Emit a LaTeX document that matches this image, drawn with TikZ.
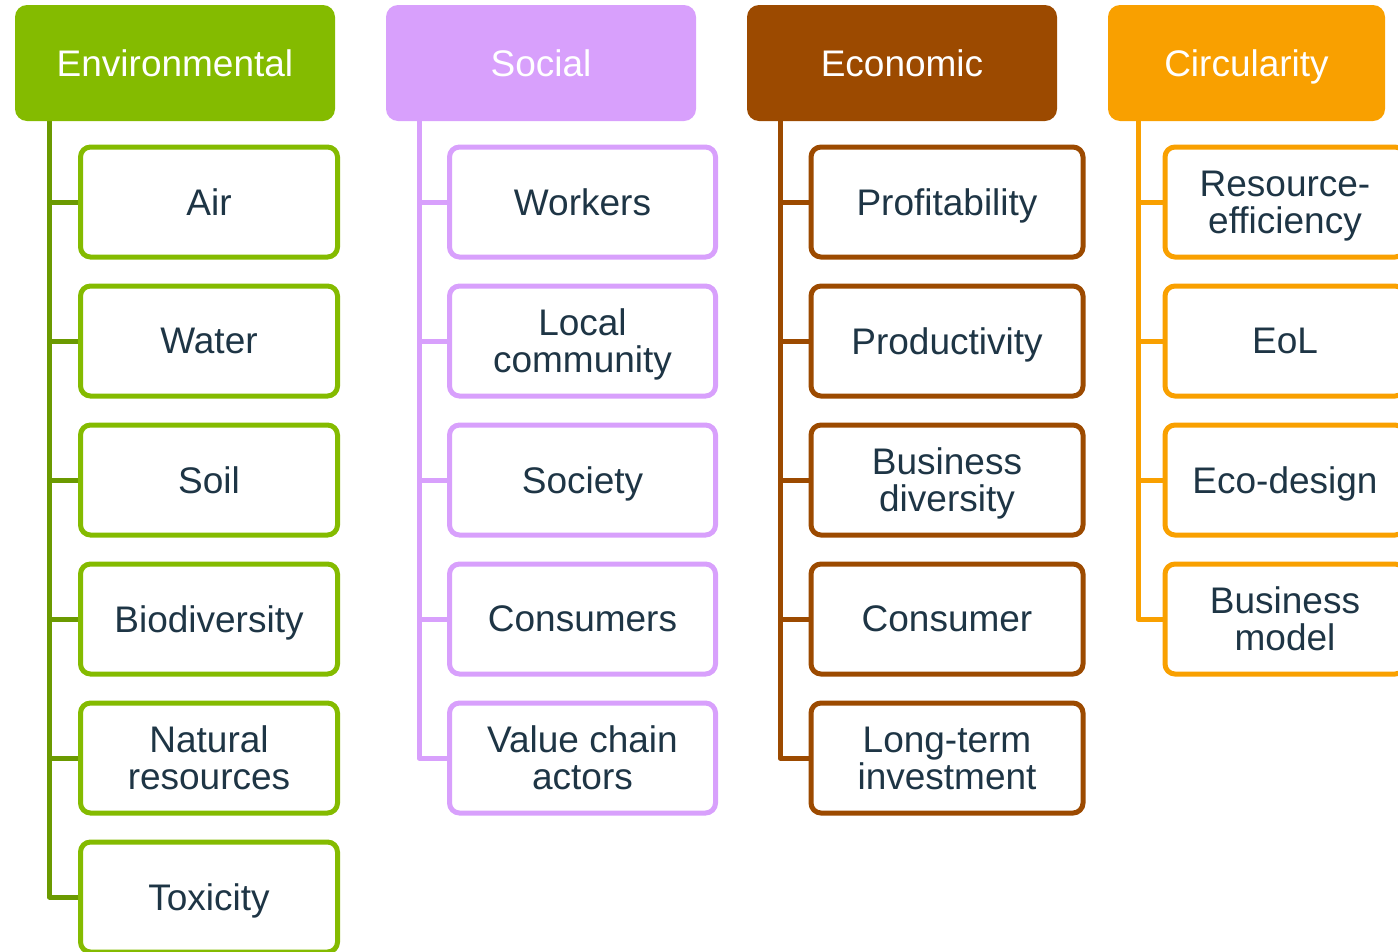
\documentclass[tikz,border=0pt]{standalone}
\usepackage{fontspec}
\setmainfont{Liberation Sans}
\definecolor{envc}{HTML}{84BB00}
\definecolor{envt}{HTML}{6B9A00}
\definecolor{socc}{HTML}{D8A0FC}
\definecolor{ecoc}{HTML}{9C4A00}
\definecolor{circ}{HTML}{F9A000}
\definecolor{txtc}{HTML}{1E3545}
\begin{document}
\begin{tikzpicture}[x=1pt,y=-1pt,
  hdr/.style={fill=#1, draw=none, rounded corners=12pt, minimum height=116pt, text=white, font=\fontsize{37}{37}\selectfont, inner sep=0pt, text depth=0pt},
  item/.style={draw=#1, line width=5pt, fill=white, rounded corners=10pt, minimum height=110pt, text=txtc, font=\fontsize{37}{37}\selectfont, align=center, inner sep=0pt, text depth=0pt},
  link/.style={draw=#1, line width=5pt, line join=round}]
\useasboundingbox (0,0) rectangle (1398,951);
\clip (0,0) rectangle (1398,951);
% trunk tops
\coordinate (Et) at (49.5,115);
\coordinate (St) at (419,115);
\coordinate (Ct) at (780,115);
\coordinate (Rt) at (1138,115);
% items
\foreach \n/\t [count=\i] in {E1/Air,E2/Water,E3/Soil,E4/Biodiversity,E5/{Natural\\resources},E6/Toxicity}{
  \node[item=envc, minimum width=257pt] (\n) at (209,{202+139*(\i-1)}) {\t};
}
\foreach \n/\t [count=\i] in {S1/Workers,S2/{Local\\community},S3/Society,S4/Consumers,S5/{Value chain\\actors}}{
  \node[item=socc, minimum width=266pt] (\n) at (582.5,{202+139*(\i-1)}) {\t};
}
\foreach \n/\t [count=\i] in {C1/Profitability,C2/Productivity,C3/{Business\\diversity},C4/Consumer,C5/{Long-term\\investment}}{
  \node[item=ecoc, minimum width=272pt] (\n) at (947,{202+139*(\i-1)}) {\t};
}
\foreach \n/\t [count=\i] in {R1/{Resource-\\efficiency},R2/EoL,R3/Eco-design,R4/{Business\\model}}{
  \node[item=circ, minimum width=240pt] (\n) at (1285,{202+139*(\i-1)}) {\t};
}
% connectors
\foreach \n in {E1,E2,E3,E4,E5,E6}{\draw[link=envt] (Et) |- (\n.west);}
\foreach \n in {S1,S2,S3,S4,S5}{\draw[link=socc] (St) |- (\n.west);}
\foreach \n in {C1,C2,C3,C4,C5}{\draw[link=ecoc] (Ct) |- (\n.west);}
\foreach \n in {R1,R2,R3,R4}{\draw[link=circ] (Rt) |- (\n.west);}
% headers (on top of trunk starts)
\node[hdr=envc, minimum width=320pt] (E) at (175,63) {Environmental};
\node[hdr=socc, minimum width=310pt] (S) at (541,63) {Social};
\node[hdr=ecoc, minimum width=310pt] (C) at (902,63) {Economic};
\node[hdr=circ, minimum width=277pt] (R) at (1246.5,63) {Circularity};
\end{tikzpicture}
\end{document}
